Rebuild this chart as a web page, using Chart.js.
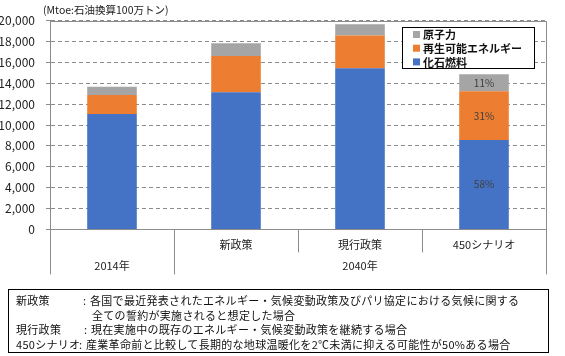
<!DOCTYPE html>
<html>
<head>
<meta charset="utf-8">
<script src="https://cdn.jsdelivr.net/npm/chart.js@4.4.1/dist/chart.umd.min.js"></script>
<style>
  html, body { margin: 0; padding: 0; background: #fff; }
  #wrap { position: relative; width: 565px; height: 356px; overflow: hidden; font-family: "Noto Sans CJK JP", "Noto Sans", sans-serif; color: #111; }
  #chart { position: absolute; left: 0; top: 0; }
  #unit { position: absolute; left: 43px; top: 3px; font-size: 10.5px; line-height: 14px; white-space: nowrap; color: #222; }
  #note { position: absolute; left: 8px; top: 289px; width: 541px; height: 64px; border: 1px solid #000; box-sizing: border-box; font-size: 11px; }
  #note .ln { position: absolute; left: 0; height: 15px; line-height: 15px; white-space: nowrap; width: 100%; }
  #note span { position: absolute; top: 0; letter-spacing: 0.3px; }
</style>
</head>
<body>
<div id="wrap">
  <canvas id="chart" width="565" height="356"></canvas>
  <div id="unit">(Mtoe:石油換算100万トン)</div>
  <div id="note"></div>
</div>
<script>
// ---- data ----
const categories = ['2014年', '新政策', '現行政策', '450シナリオ'];
const subLabels = ['', '新政策', '現行政策', '450シナリオ'];
const yearGroups = ['2014年', '2040年'];
const yearGroupStart = [0, 1];
const yearGroupEnd = [0, 3];
const seriesNames = ['化石燃料', '再生可能エネルギー', '原子力'];
const fossil = [11060, 13140, 15450, 8560];
const renewables = [1830, 3480, 3120, 4670];
const nuclear = [790, 1220, 1090, 1640];
const yTicks = [0, 2000, 4000, 6000, 8000, 10000, 12000, 14000, 16000, 18000, 20000];
const shareLabelIndex = 3;
const noteLabels = ['新政策', '', '現行政策', '450シナリオ'];
const noteTexts = [
  '各国で最近発表されたエネルギー・気候変動政策及びパリ協定における気候に関する',
  '全ての誓約が実施されると想定した場合',
  '現在実施中の既存のエネルギー・気候変動政策を継続する場合',
  '産業革命前と比較して長期的な地球温暖化を2℃未満に抑える可能性が50%ある場合'
];

const colors = ['#4472C4', '#ED7D31', '#A5A5A5'];
const FONT = '"Noto Sans CJK JP", "Noto Sans", sans-serif';

// ---- note box (HTML text) ----
const note = document.getElementById('note');
const colonX = [74, null, 75, 70];
noteTexts.forEach((t, i) => {
  const ln = document.createElement('div');
  ln.className = 'ln';
  ln.style.top = (3 + i * 14.5) + 'px';
  if (noteLabels[i]) {
    const a = document.createElement('span'); a.style.left = '7px'; a.textContent = noteLabels[i]; ln.appendChild(a);
    const c = document.createElement('span'); c.style.left = colonX[i] + 'px'; c.textContent = ':'; ln.appendChild(c);
    const b = document.createElement('span'); b.style.left = (colonX[i] + 7) + 'px'; b.textContent = t; ln.appendChild(b);
  } else {
    const b = document.createElement('span'); b.style.left = '83px'; b.textContent = t; ln.appendChild(b);
  }
  note.appendChild(ln);
});

// ---- plugin for frame, category axis, legend, data labels ----
const extras = {
  id: 'extras',
  afterDraw(chart) {
    const ctx = chart.ctx;
    const ca = chart.chartArea;
    const xs = chart.scales.x;
    const gray = '#8c8c8c';
    ctx.save();
    // plot frame top & right
    ctx.strokeStyle = gray; ctx.lineWidth = 1; ctx.setLineDash([]);
    ctx.beginPath();
    ctx.moveTo(ca.left, Math.round(ca.top) + 0.5); ctx.lineTo(Math.round(ca.right) + 0.5, Math.round(ca.top) + 0.5);
    ctx.lineTo(Math.round(ca.right) + 0.5, Math.round(ca.bottom));
    ctx.stroke();

    // category axis dividers
    const step = (xs.getPixelForValue(1) - xs.getPixelForValue(0));
    const bottom = ca.bottom;
    const longEnd = bottom + 45, shortEnd = bottom + 23;
    ctx.beginPath();
    for (let i = 0; i <= categories.length; i++) {
      const x = Math.round(xs.getPixelForValue(0) - step / 2 + i * step) + 0.5;
      const isGroupEdge = (i === 0 || i === categories.length || yearGroupStart.includes(i));
      ctx.moveTo(x, bottom);
      ctx.lineTo(x, isGroupEdge ? longEnd : shortEnd);
    }
    ctx.stroke();

    // labels
    ctx.fillStyle = '#222';
    ctx.font = '11px ' + FONT;
    ctx.textAlign = 'center'; ctx.textBaseline = 'middle';
    subLabels.forEach((s, i) => { if (s) ctx.fillText(s, xs.getPixelForValue(i), bottom + 15); });
    yearGroups.forEach((g, k) => {
      const x = (xs.getPixelForValue(yearGroupStart[k]) + xs.getPixelForValue(yearGroupEnd[k])) / 2;
      ctx.fillText(g, x, bottom + 36.5);
    });

    // data labels (shares) for the 450 scenario
    const total = fossil[shareLabelIndex] + renewables[shareLabelIndex] + nuclear[shareLabelIndex];
    ctx.fillStyle = '#404040';
    ctx.font = '10px ' + FONT;
    chart.data.datasets.forEach((ds, di) => {
      const el = chart.getDatasetMeta(di).data[shareLabelIndex];
      const v = ds.data[shareLabelIndex];
      const pct = Math.round(v / total * 100) + '%';
      ctx.fillText(pct, el.x, (el.y + el.base) / 2);
    });

    // legend
    const lx = 402, ly = 27.5, lw = 132, lh = 41;
    ctx.fillStyle = '#fff';
    ctx.fillRect(lx, ly, lw, lh);
    ctx.strokeStyle = '#000'; ctx.lineWidth = 1;
    ctx.strokeRect(lx + 0.5, ly, lw, lh);
    ctx.font = 'bold 11px ' + FONT;
    ctx.textAlign = 'left';
    const order = [2, 1, 0];
    order.forEach((di, k) => {
      const y = 34.5 + k * 13.7;
      ctx.fillStyle = colors[di];
      ctx.fillRect(413, y - 3.5, 7, 7);
      ctx.fillStyle = '#111';
      ctx.fillText(seriesNames[di], 423, y + 0.5);
    });
    ctx.restore();
  }
};

new Chart(document.getElementById('chart'), {
  type: 'bar',
  data: {
    labels: categories,
    datasets: [
      { label: seriesNames[0], data: fossil, backgroundColor: colors[0] },
      { label: seriesNames[1], data: renewables, backgroundColor: colors[1] },
      { label: seriesNames[2], data: nuclear, backgroundColor: colors[2] }
    ]
  },
  options: {
    responsive: false,
    animation: false,
    devicePixelRatio: 1,
    layout: { padding: { top: 20.7, right: 19, left: 0, bottom: 0 } },
    datasets: { bar: { barPercentage: 0.4, categoryPercentage: 1 } },
    plugins: { legend: { display: false }, tooltip: { enabled: false } },
    scales: {
      x: {
        stacked: true,
        grid: { display: false },
        border: { display: true, color: '#8c8c8c', width: 1 },
        ticks: { display: false },
        afterFit(s) { s.height = 356 - 229.4; }
      },
      y: {
        stacked: true,
        min: 0, max: 20000,
        afterBuildTicks(s) { s.ticks = yTicks.map(v => ({ value: v })); },
        grid: { color: '#8c8c8c', lineWidth: 1, tickLength: 4, tickBorderDash: [] },
        border: { display: true, color: '#8c8c8c', width: 1, dash: [4, 3] },
        ticks: {
          padding: 11,
          color: '#222',
          font: { family: FONT, size: 12 },
          callback: v => v.toLocaleString('en-US')
        },
        afterFit(s) { s.width = 50; }
      }
    }
  },
  plugins: [extras]
});
</script>
</body>
</html>
